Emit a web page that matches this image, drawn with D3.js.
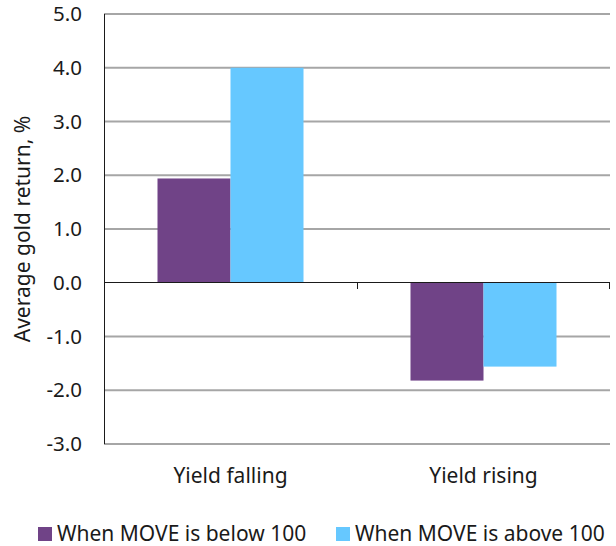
<!DOCTYPE html>
<html><head><meta charset="utf-8">
<script src="https://cdn.jsdelivr.net/npm/d3@7"></script>
<style>body{margin:0;background:#fff}text{font-family:"Noto Sans","Open Sans",sans-serif}</style>
</head><body><svg id="c" width="616" height="546"></svg>
<script>
const categories = ["Yield falling", "Yield rising"];
const seriesNames = ["When MOVE is below 100", "When MOVE is above 100"];
const belowValues = [1.94, -1.82];
const aboveValues = [4.0, -1.56];
const yTicks = [5, 4, 3, 2, 1, 0, -1, -2, -3];
const colors = ["#704387", "#66c8ff"];

(function () {
const FT = 20.5, FS = 21;
const svg = d3.select("#c");
const pLeft = 104, pRight = 610, pTop = 14, pBottom = 444;
const y = d3.scaleLinear().domain([-3, 5]).range([pBottom, pTop]);
const x0 = d3.scaleBand().domain(categories).range([pLeft, pRight]).paddingInner(0).paddingOuter(0);
const x1 = d3.scaleBand().domain(seriesNames).range([53.5, x0.bandwidth() - 53.5]).padding(0);

// gridlines
svg.append("g").selectAll("line").data(yTicks.filter(d => d !== 0)).join("line")
  .attr("x1", pLeft).attr("x2", pRight).attr("y1", d => y(d)).attr("y2", d => y(d))
  .attr("stroke", "#a6a6a6").attr("stroke-width", 2);

// y tick labels
const yAxis = d3.axisLeft(y).tickValues(yTicks).tickFormat(d => d.toFixed(1)).tickSize(0).tickPadding(22);
const ya = svg.append("g").attr("transform", `translate(${pLeft},0)`).call(yAxis);
ya.select(".domain").remove();
ya.attr("font-size", FT).attr("font-family", '"Noto Sans","Open Sans",sans-serif');
ya.selectAll("text").attr("font-size", FT).attr("fill", "#1a1a1a");

// bars
const data = categories.map((c, i) => ({ c, vals: [belowValues[i], aboveValues[i]] }));
const g = svg.append("g");
data.forEach(d => {
  d.vals.forEach((v, j) => {
    g.append("rect")
      .attr("x", x0(d.c) + x1(seriesNames[j]))
      .attr("width", x1.bandwidth())
      .attr("y", y(Math.max(0, v)))
      .attr("height", Math.abs(y(v) - y(0)))
      .attr("fill", colors[j]);
  });
});

// left axis line
svg.append("line").attr("x1", pLeft).attr("x2", pLeft).attr("y1", pTop).attr("y2", pBottom)
  .attr("stroke", "#1a1a1a").attr("stroke-width", 1).attr("shape-rendering", "crispEdges");

// zero line with category ticks
svg.append("line").attr("x1", pLeft).attr("x2", pRight).attr("y1", y(0)).attr("y2", y(0))
  .attr("stroke", "#1a1a1a").attr("stroke-width", 1).attr("shape-rendering", "crispEdges");
const bounds = categories.map(c => x0(c) + x0.bandwidth());
svg.append("g").selectAll("line").data(bounds).join("line")
  .attr("x1", d => Math.min(d, pRight - 0.5)).attr("x2", d => Math.min(d, pRight - 0.5))
  .attr("y1", y(0)).attr("y2", y(0) + 6)
  .attr("stroke", "#1a1a1a").attr("stroke-width", 1).attr("shape-rendering", "crispEdges");

// category labels
svg.append("g").selectAll("text").data(categories).join("text")
  .attr("x", d => x0(d) + x0.bandwidth() / 2).attr("y", 483)
  .attr("text-anchor", "middle").attr("font-size", FS).attr("fill", "#1a1a1a")
  .text(d => d);

// y label
svg.append("text").attr("transform", "translate(30,229) rotate(-90)")
  .attr("text-anchor", "middle").attr("font-size", FS).attr("fill", "#1a1a1a")
  .text("Average gold return, %");

// legend
const legX = [38, 336];
seriesNames.forEach((s, j) => {
  svg.append("rect").attr("x", legX[j]).attr("y", 527).attr("width", 14).attr("height", 14).attr("fill", colors[j]);
  svg.append("text").attr("x", legX[j] + 19).attr("y", 541).attr("font-size", FS).attr("fill", "#1a1a1a").text(s);
});
})();
</script></body></html>
